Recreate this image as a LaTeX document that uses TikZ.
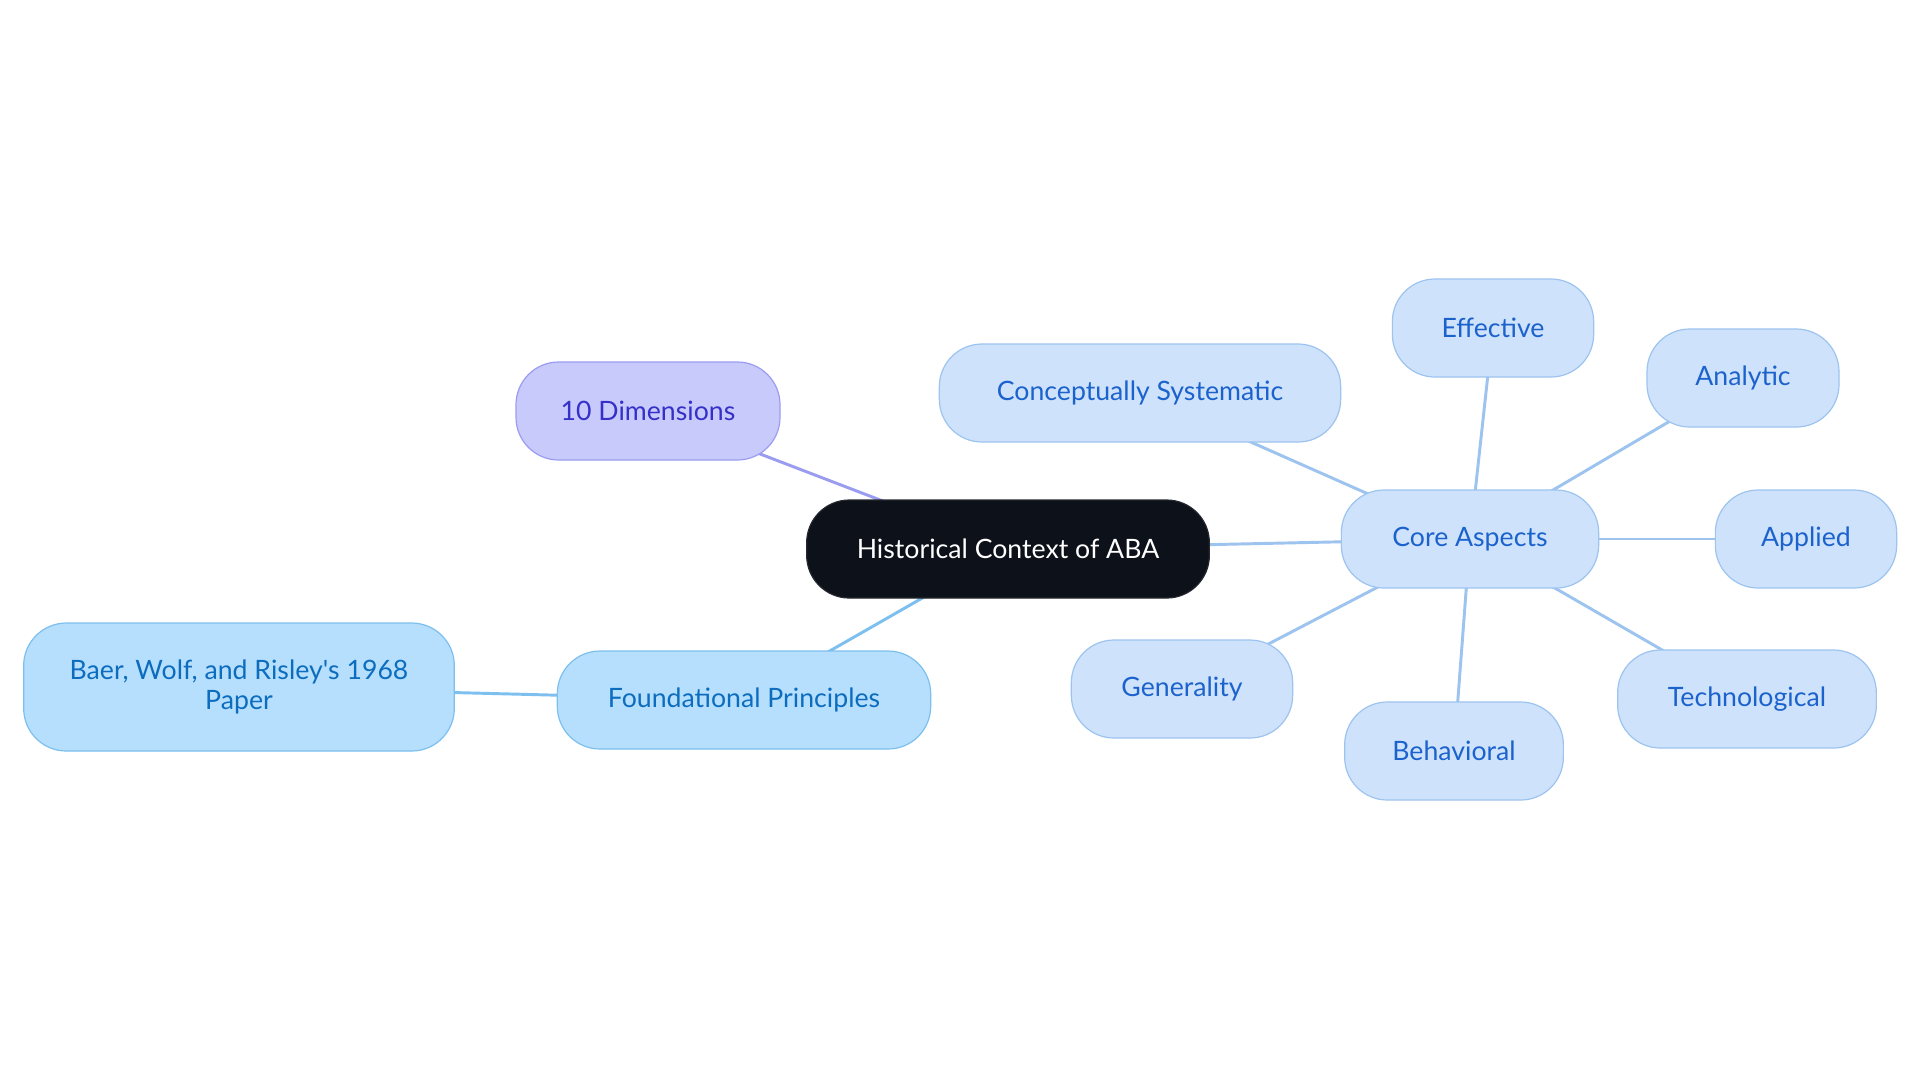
\documentclass[tikz,border=0pt]{standalone}
\usepackage{fontspec}
\setmainfont{Lato}
\usepackage{tikz}
\usetikzlibrary{backgrounds}
\definecolor{ink}{HTML}{0D1119}
\definecolor{lavfill}{HTML}{C9CAFC}
\definecolor{lavline}{HTML}{9A9CF0}
\definecolor{lavtext}{HTML}{3430C8}
\definecolor{skyfill}{HTML}{B6DFFD}
\definecolor{skyline}{HTML}{7DBFEF}
\definecolor{skytext}{HTML}{0C6DBF}
\definecolor{palefill}{HTML}{CEE3FB}
\definecolor{paleline}{HTML}{9DC3EF}
\definecolor{paletext}{HTML}{1C62CD}

\begin{document}
\begin{tikzpicture}[x=0.75pt,y=-0.75pt,
  pill/.style={rounded corners=32pt,minimum height=73.5pt,inner xsep=0pt,line width=0.9pt,
    align=center,font=\fontsize{20}{23}\selectfont},
  rootpill/.style={pill,fill=ink,draw=ink!80!gray,text=white},
  lavpill/.style={pill,fill=lavfill,draw=lavline,text=lavtext},
  skypill/.style={pill,fill=skyfill,draw=skyline,text=skytext},
  palepill/.style={pill,fill=palefill,draw=paleline,text=paletext},
  link/.style={line width=2.2pt}]
\useasboundingbox (0,0) rectangle (1920,1083);
% root and first ring
\node[rootpill,minimum width=302pt] (root) at (1008,549) {Historical Context of ABA};
\node[lavpill,minimum width=198pt] (dims) at (648,411) {10 Dimensions};
\node[skypill,minimum width=280pt] (found) at (744,700) {Foundational Principles};
\node[skypill,minimum width=323pt,minimum height=96pt] (baer) at (239,687) {Baer, Wolf, and Risley\textquotesingle s 1968\\Paper};
\node[palepill,minimum width=193pt] (core) at (1470,539) {Core Aspects};
% leaves of core aspects
\foreach \nm/\x/\y/\w/\txt in {concept/1140/393/301/Conceptually Systematic,
  effect/1493/328/151/Effective, analyt/1743/378/144/Analytic,
  applied/1806/539/136/Applied, techno/1747/699/194/Technological,
  behav/1454/751/164/Behavioral, general/1182/689/166/Generality}{
  \node[palepill,minimum width=\w pt] (\nm) at (\x,\y) {\txt};}
\begin{scope}[on background layer]
\fill[white] (0,0) rectangle (1920,1083);
\draw[link,lavline] (root.center)--(dims.center);
\draw[link,skyline] (root.center)--(found.center);
\draw[link,skyline] (found.center)--(baer.center);
\draw[link,paleline] (root.center)--(core.center);
\foreach \nm in {concept,effect,analyt,applied,techno,behav,general}
  \draw[link,paleline] (core.center)--(\nm.center);
\end{scope}
\end{tikzpicture}
\end{document}
